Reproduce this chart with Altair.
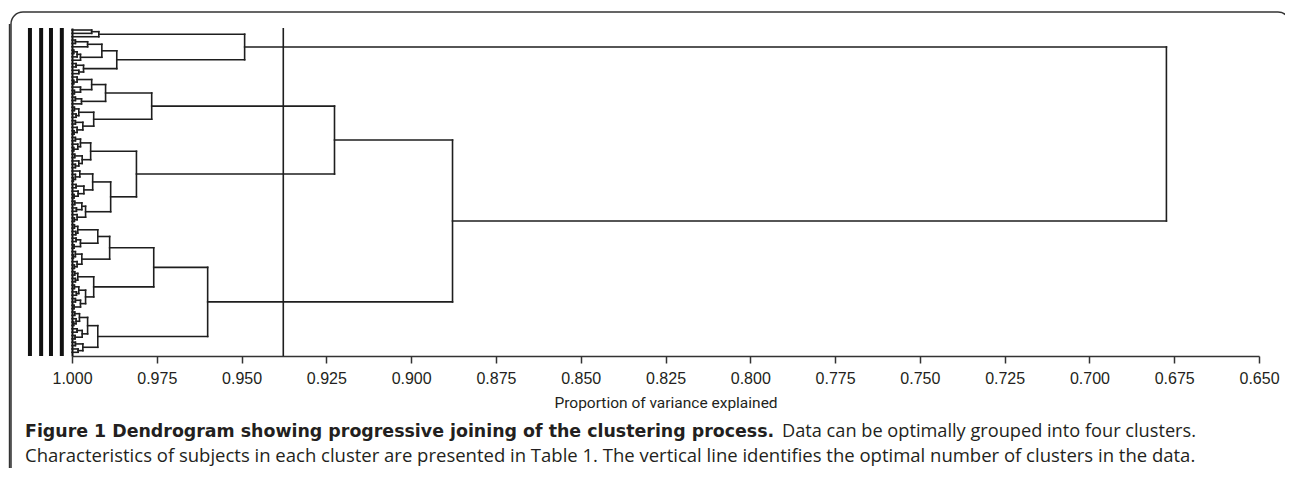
import altair as alt
import pandas as pd

# ---- dendrogram joins: (proportion of variance explained at join, left, right); 1 = subject (leaf)
A1 = (0.9921, (0.9942, 1, 1), 1)
A2a1 = (0.9954, (0.9990, 1, 1), 1)
A2a2 = (0.9975, (0.9985, (0.9995, 1, 1), 1), 1)
A2b = (0.9966, (0.9988, 1, 1), (0.9980, 1, 1))

B1a1 = (0.9942, (0.9985, 1, (0.9995, 1, 1)), (0.9975, 1, (0.9993, 1, 1)))
B1a2 = (0.9972, (0.9990, 1, 1), 1)
B1b = (0.9936, (0.9980, (0.9993, 1, 1), (0.9988, 1, 1)),
       (0.9968, (0.9990, 1, 1), (0.9985, 1, (0.9994, 1, 1))))
B2a = (0.9945, (0.9975, (0.9990, 1, 1), (0.9983, 1, (0.9995, 1, 1))),
       (0.9970, (0.9992, 1, 1), (0.9980, 1, (0.9990, 1, 1))))
B2b1 = (0.9939, (0.9977, 1, (0.9990, 1, (0.9996, 1, 1))),
        (0.9965, (0.9988, 1, 1), (0.9982, 1, (0.9994, 1, 1))))
B2b2 = (0.9960, (0.9971, (0.9992, 1, 1), (0.9987, 1, 1)), (0.9985, 1, (0.9993, 1, 1)))

C1a = (0.9924, (0.9983, (0.9993, 1, 1), (0.9989, 1, 1)), (0.9975, (0.9988, 1, 1), (0.9994, 1, 1)))
C1b = (0.9971, (0.9990, 1, (0.9996, 1, 1)), (0.9985, 1, (0.9993, 1, 1)))
C2a = (0.9983, (0.9992, 1, 1), (0.9990, 1, 1))
C2b = (0.9960, (0.9980, (0.9993, 1, 1), (0.9987, 1, 1)), (0.9975, (0.9990, 1, 1), (0.9994, 1, 1)))
D1 = (0.9954, (0.9978, (0.9992, 1, 1), (0.9988, 1, (0.9995, 1, 1))),
      (0.9970, (0.9985, 1, 1), (0.9991, 1, 1)))
D2 = (0.9968, (0.9990, 1, 1), (0.9982, 1, 1))

A = (0.9491, A1, (0.9868, (0.9912, A2a1, A2a2), A2b))
B = (0.9226, (0.9765, (0.9901, B1a1, B1a2), B1b), (0.9810, B2a, (0.9886, B2b1, B2b2)))
CD = (0.9600, (0.9759, (0.9889, C1a, C1b), (0.9936, C2a, C2b)), (0.9924, D1, D2))
ROOT = (0.6773, A, (0.8878, B, CD))

left_bars = [1.0124, 1.0091, 1.0062, 1.0030]
optimal_cut = 0.9377
tick_values = [1.000, 0.975, 0.950, 0.925, 0.900, 0.875, 0.850, 0.825, 0.800,
               0.775, 0.750, 0.725, 0.700, 0.675, 0.650]

x_title = "Proportion of variance explained"
cap_bold = "Figure 1 Dendrogram showing progressive joining of the clustering process."
cap_rest1 = "Data can be optimally grouped into four clusters."
cap_line2 = ("Characteristics of subjects in each cluster are presented in Table 1. "
             "The vertical line identifies the optimal number of clusters in the data.")

# ---- build segments from the tree
segs = []
counter = [0]


def walk(node):
    if node == 1:
        y = counter[0]
        counter[0] += 1
        return float(y), 1.0
    h, a, b = node
    ya, ha = walk(a)
    yb, hb = walk(b)
    segs.append(dict(x=ha, x2=h, y=ya, y2=ya))
    segs.append(dict(x=hb, x2=h, y=yb, y2=yb))
    segs.append(dict(x=h, x2=h, y=ya, y2=yb))
    return (ya + yb) / 2, h


walk(ROOT)
n_leaves = counter[0]
seg_df = pd.DataFrame(segs)

xscale = alt.Scale(domain=[0.65, 1.0], reverse=True, nice=False, zero=False)
yscale = alt.Scale(domain=[-0.6, n_leaves + 0.1], reverse=True, nice=False, zero=False)

INK = "#1e1e1e"
TXT = "#231f20"

xaxis = alt.Axis(values=tick_values, format=".3f", title=x_title, grid=False,
                 labelFont="Liberation Sans", labelFontSize=16, labelColor=TXT,
                 labelPadding=7, labelFlush=False, tickSize=7, tickWidth=1.5,
                 tickColor="#333", domainColor="#333", domainWidth=1.6,
                 titleFont="Roboto", titleFontSize=15.5,
                 titleFontWeight="normal", titleColor=TXT, titlePadding=9)

dend = alt.Chart(seg_df).mark_rule(color=INK, strokeWidth=1.6, strokeCap="square").encode(
    x=alt.X("x:Q", scale=xscale, axis=xaxis),
    x2="x2:Q",
    y=alt.Y("y:Q", scale=yscale,
            axis=alt.Axis(title=None, labels=False, ticks=False, grid=False,
                          domain=True, domainColor="#111", domainWidth=2)),
    y2="y2:Q",
)

bars = alt.Chart(pd.DataFrame({"x": left_bars})).mark_rule(color="#111", strokeWidth=4).encode(
    x=alt.X("x:Q", scale=xscale, axis=xaxis)
)

cut = alt.Chart(pd.DataFrame({"x": [optimal_cut]})).mark_rule(color=INK, strokeWidth=1.6).encode(
    x=alt.X("x:Q", scale=xscale, axis=xaxis)
)

# ---- figure frame (decoration): left edge placed just inside the page margin
one = pd.DataFrame({"k": [0]})
frame_edge = pd.DataFrame({"x": [1.0184]})
frame = alt.Chart(one).mark_rect(filled=False, stroke="#333", strokeWidth=1.5,
                                 cornerRadius=12).encode(
    x=alt.value(-61), x2=alt.value(1218), y=alt.value(-16), y2=alt.value(600)
)
frame_left = alt.Chart(frame_edge).mark_rule(color="#333", strokeWidth=1.6).encode(
    x=alt.X("x:Q", scale=xscale, axis=xaxis), y=alt.value(-4), y2=alt.value(600)
)

cap_x = -47
t1 = alt.Chart(one).mark_text(align="left", baseline="middle", font="DejaVu Sans",
                              fontSize=17.4, fontWeight="bold", color=TXT).encode(
    x=alt.value(cap_x), y=alt.value(404), text=alt.value(cap_bold))
t1b = alt.Chart(one).mark_text(align="right", baseline="middle", font="Open Sans",
                               fontSize=18.2, color=TXT).encode(
    x=alt.value(1124), y=alt.value(404), text=alt.value(cap_rest1))
t2 = alt.Chart(one).mark_text(align="left", baseline="middle", font="Open Sans",
                              fontSize=18.5, color=TXT).encode(
    x=alt.value(cap_x), y=alt.value(428), text=alt.value(cap_line2))

chart = alt.layer(frame, frame_left, bars, dend, cut, t1, t1b, t2).properties(
    width=1187, height=328,
    padding={"left": 64, "top": 20, "right": 26, "bottom": 112},
    autosize=alt.AutoSizeParams(type="none"),
    background="white",
).configure_view(stroke=None)

chart.save("out.html", embed_options={"renderer": "svg", "actions": False})
